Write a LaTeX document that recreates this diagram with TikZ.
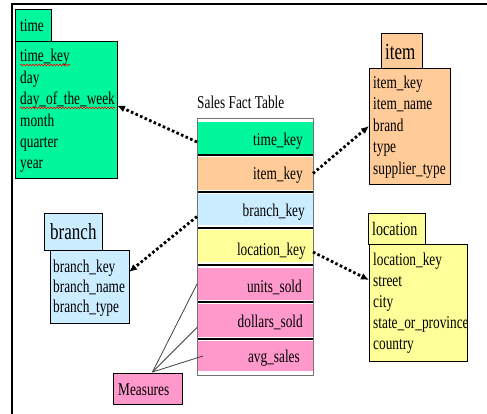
\documentclass[tikz,border=0pt]{standalone}
\usepackage{fontspec}
\setmainfont[FakeStretch=0.74]{Liberation Serif}
\usetikzlibrary{arrows.meta,decorations.pathmorphing}
\definecolor{cgreen}{HTML}{00F79B}
\definecolor{corange}{HTML}{FFCC99}
\definecolor{cblue}{HTML}{CCECFF}
\definecolor{cyellow}{HTML}{FFFF99}
\definecolor{cpink}{HTML}{FF99CC}
\newcommand\fbody{\fontsize{18}{21}\selectfont}
\newcommand\fbig{\fontsize{23}{27}\selectfont}
\newcommand\fmid{\fontsize{19}{23}\selectfont}
\begin{document}
\begin{tikzpicture}[x=1pt,y=-1pt,
  box/.style={draw=black,line width=0.9pt,anchor=north west,inner sep=0,outer sep=0},
  txt/.style={anchor=base west,inner sep=0,font=\fbody},
  rtxt/.style={anchor=base east,inner sep=0,font=\fbody},
  row/.style={anchor=north west,inner sep=0,outer sep=0,minimum width=116pt},
  sep/.style={draw=black,line width=2pt},
  link/.style={line width=2.8pt,dash pattern=on 2.6pt off 2.4pt,-{Latex[length=8pt,width=7pt]}},
  measline/.style={draw=black!75,line width=0.8pt},
  spell/.style={draw=red,line width=0.6pt,decorate,decoration={snake,segment length=3pt,amplitude=0.9pt}}]
\useasboundingbox (0,0) rectangle (487,414);
\clip (0,0) rectangle (487,414);
% outer frame
\draw[line width=2pt] (12,430) -- (12,4) -- (500,4);

% time dimension
\node[box,fill=cgreen,minimum width=36pt,minimum height=32pt] (timeh) at (15,9) {};
\node[box,fill=cgreen,minimum width=102pt,minimum height=137pt] (timeb) at (15,41) {};
\node[txt] (timeht) at (20,32) {time};
\node[txt] (t1) at (20,62) {time\_key};
\node[txt] (t2) at (20,83.4) {day};
\node[txt] (t3) at (20,104.8) {day\_of\_the\_week};
\node[txt] (t4) at (20,126.2) {month};
\node[txt] (t5) at (20,147.3) {quarter};
\node[txt] (t6) at (20,168.5) {year};
\draw[spell] ([yshift=-3pt]t1.base west) -- ([yshift=-3pt]t1.base east);
\draw[spell] ([yshift=-3pt]t3.base west) -- ([yshift=-3pt]t3.base east);

% item dimension
\node[box,fill=corange,minimum width=41pt,minimum height=35pt] (itemh) at (381,33) {};
\node[box,fill=corange,minimum width=81pt,minimum height=116pt] (itemb) at (369,68) {};
\node[txt,font=\fbig] (itemht) at (385,60) {item};
\node[txt] (i1) at (373,88.5) {item\_key};
\node[txt] (i2) at (373,110) {item\_name};
\node[txt] (i3) at (373,131.5) {brand};
\node[txt] (i4) at (373,153) {type};
\node[txt] (i5) at (373,174.5) {supplier\_type};

% branch dimension
\node[box,fill=cblue,minimum width=58pt,minimum height=37pt] (branchh) at (44,213) {};
\node[box,fill=cblue,minimum width=79pt,minimum height=73pt] (branchb) at (50,250) {};
\node[txt,font=\fbig] (branchht) at (50,239) {branch};
\node[txt] (b1) at (53,272) {branch\_key};
\node[txt] (b2) at (53,292) {branch\_name};
\node[txt] (b3) at (53,312) {branch\_type};

% location dimension
\node[box,fill=cyellow,minimum width=57pt,minimum height=31pt] (loch) at (368,213) {};
\node[box,fill=cyellow,minimum width=98pt,minimum height=117pt] (locb) at (369,244) {};
\node[txt,font=\fmid] (locht) at (372,236) {location};
\node[txt] (l1) at (373,265.5) {location\_key};
\node[txt] (l2) at (373,286.5) {street};
\node[txt] (l3) at (373,307.5) {city};
\node[txt] (l4) at (373,328.5) {state\_or\_province};
\node[txt] (l5) at (373,349.5) {country};

% fact table
\node[txt] (title) at (197,109) {Sales Fact Table};
\node[row,fill=cgreen,minimum height=32pt] (fk1) at (197,122) {};
\node[row,fill=corange,minimum height=33pt] (fk2) at (197,157) {};
\node[row,fill=cblue,minimum height=31pt] (fk3) at (197,194) {};
\node[row,fill=cyellow,minimum height=32pt] (fk4) at (197,230) {};
\node[row,fill=cpink,minimum height=32pt] (fk5) at (197,268) {};
\node[row,fill=cpink,minimum height=33pt] (fk6) at (197,304) {};
\node[row,fill=cpink,minimum height=30pt] (fk7) at (197,341) {};
\draw[sep] (197,155.5) -- (313,155.5);
\draw[sep] (197,192) -- (313,192);
\draw[sep] (197,227.5) -- (313,227.5);
\draw[sep] (197,265) -- (313,265);
\draw[sep] (197,302) -- (313,302);
\draw[sep] (197,339) -- (313,339);
\node[draw=black!55,line width=1pt,anchor=north west,inner sep=0,outer sep=0,minimum width=116pt,minimum height=256pt] (fact) at (197,119) {};
\node[rtxt] (f1) at (303,146) {time\_key};
\node[rtxt] (f2) at (303,180) {item\_key};
\node[rtxt] (f3) at (305,217) {branch\_key};
\node[rtxt] (f4) at (306,255) {location\_key};
\node[rtxt] (f5) at (302,292) {units\_sold};
\node[rtxt] (f6) at (303,327) {dollars\_sold};
\node[rtxt] (f7) at (300,362) {avg\_sales};

% measures
\node[box,fill=cpink,minimum width=69pt,minimum height=31pt] (meas) at (113,373) {};
\node[txt] (meast) at (118,395) {Measures};
\draw[measline] ([xshift=5pt,yshift=1pt]meas.north) -- (fk5.west);
\draw[measline] ([xshift=5pt,yshift=1pt]meas.north) -- ([yshift=-7pt]fk6.west);
\draw[measline] ([xshift=5pt,yshift=1pt]meas.north) -- ([xshift=6pt]fk7.west);

% links
\draw[link] ([yshift=-4pt]fk1.west) -- ([yshift=4pt]timeb.east);
\draw[link] (fk2.east) -- (itemb.west);
\draw[link] ([yshift=-7pt]fk3.west) -- ([yshift=14.5pt]branchb.east);
\draw[link] ([yshift=-6pt]fk4.east) -- ([yshift=-36pt]locb.north west);
\end{tikzpicture}
\end{document}
